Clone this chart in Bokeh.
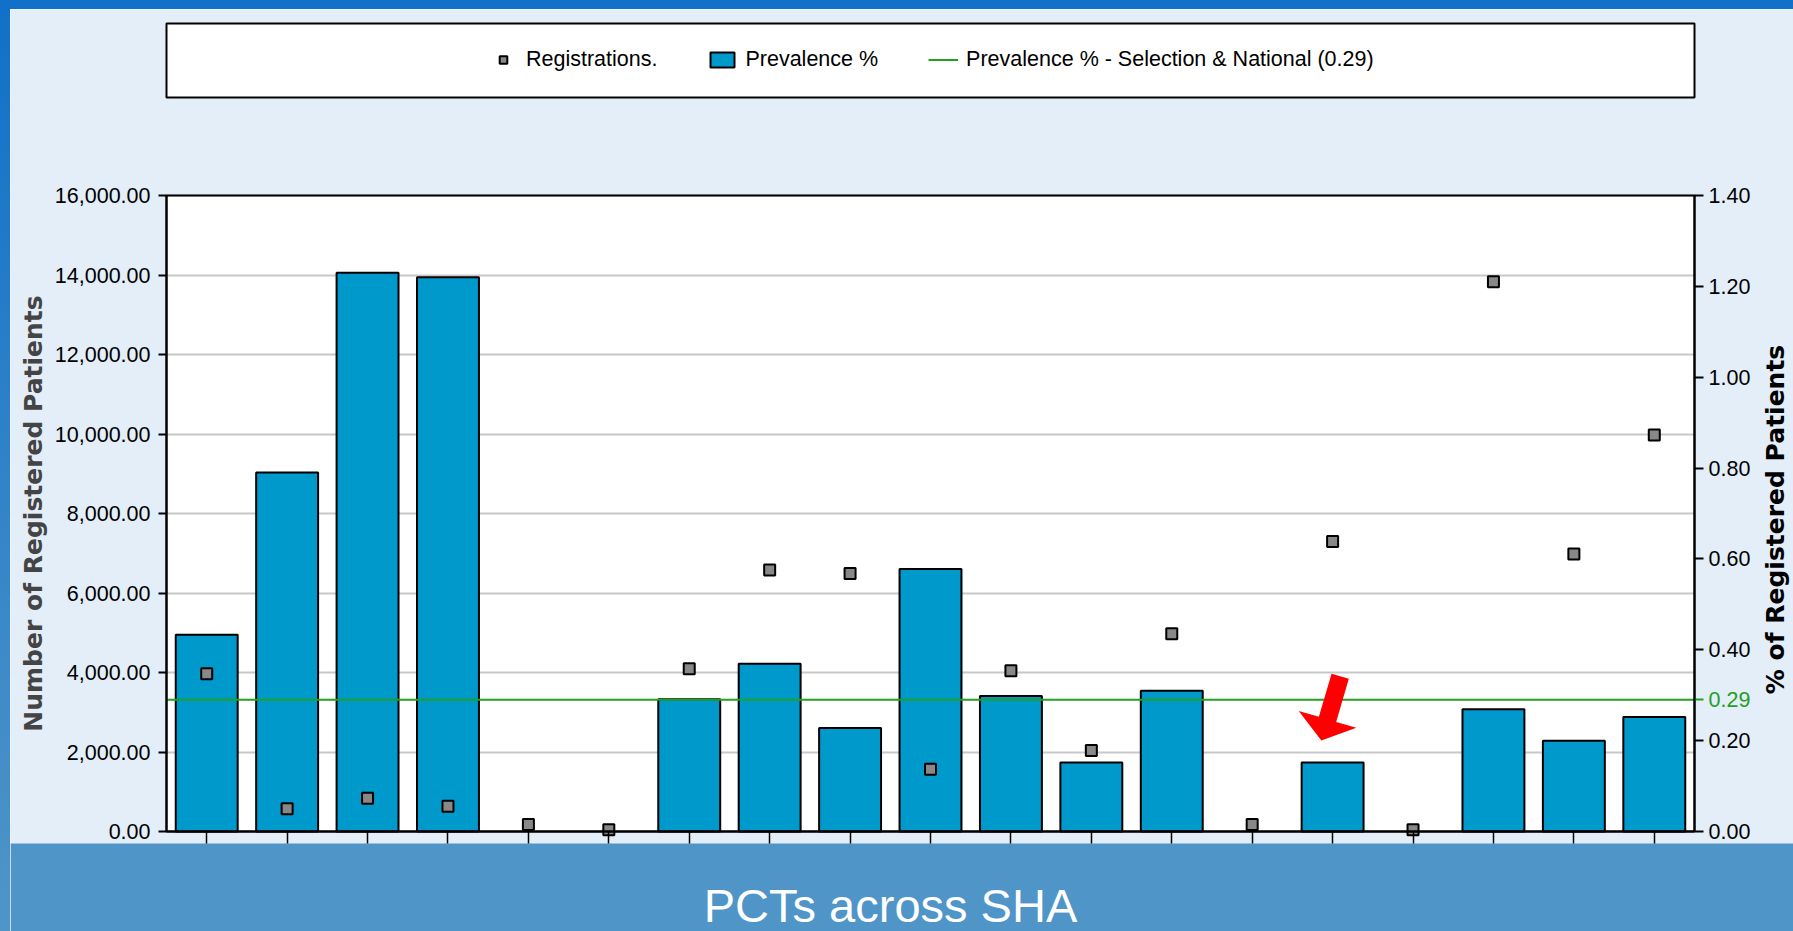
import math
from bokeh.plotting import figure
from bokeh.models import (Range1d, LinearAxis, FixedTicker, NumeralTickFormatter,
                          Legend, LegendItem, Label, PolyAnnotation, BoxAnnotation, Spacer)
from bokeh.layouts import column, row
from bokeh.embed import file_html
from bokeh.resources import INLINE

NAN = float("nan")

# ---------------- data ----------------
pct_index = list(range(19))  # PCTs across the SHA (unlabelled in the source)
prevalence = [0.433, 0.790, 1.230, 1.220, NAN, NAN, 0.291, 0.369, 0.228, 0.578,
              0.298, 0.152, 0.310, NAN, 0.152, NAN, 0.269, 0.200, 0.252]
registrations = [3967, 571, 838, 637, 176, 43, 4093, 6579, 6493, 1568,
                 4043, 2038, 4974, 176, 7298, 43, 13829, 6981, 9975]
national = 0.29
left_ticks = [0, 2000, 4000, 6000, 8000, 10000, 12000, 14000, 16000]
right_ticks = [0.0, 0.2, 0.4, 0.6, 0.8, 1.0, 1.2, 1.4]
highlight_index = 14  # PCT pointed at by the red arrow

# ---------------- styles / page geometry (page pixels) ----------------
LIGHT = "#E3EEF8"
BAND = "#4F95C8"
DARK = "#1171C8"
BAR = "#0099CC"
GREEN = "#22A022"
SANS = "Liberation Sans"
TICK_FS = "21.5px"
PAGE_W, PAGE_H = 1793, 931
STRIP_L, STRIP_T = 10, 9                 # dark strips on the left / top
PLOT_L, PLOT_R, PLOT_T, PLOT_B = 166, 1694, 195, 831
LEG_T, LEG_B = 23, 97                    # legend box
BAND_T = 843                             # caption band top
CAPTION_ANCHOR = 905                     # page y of the caption's anchor

n = len(pct_index)
xs = [i + 0.5 for i in pct_index]
y_max, pct_max = left_ticks[-1], right_ticks[-1]
PX_PER_X = (PLOT_R - PLOT_L) / n
PX_PER_Y = (PLOT_B - PLOT_T) / y_max


def x_at(px):
    return (px - PLOT_L) / PX_PER_X


def y_at(py):
    return (PLOT_B - py) / PX_PER_Y


W, H = PAGE_W - STRIP_L, PAGE_H - STRIP_T
p = figure(width=W, height=H, output_backend="svg", toolbar_location=None,
           x_range=Range1d(x_at(STRIP_L), x_at(PAGE_W)),
           y_range=Range1d(y_at(PAGE_H), y_at(STRIP_T)),
           min_border=0, background_fill_color=LIGHT, border_fill_color=LIGHT,
           outline_line_color=None)
p.title.visible = False
scale_pct = pct_max / y_max
p.extra_y_ranges = {"pct": Range1d(y_at(PAGE_H) * scale_pct, y_at(STRIP_T) * scale_pct)}

# plot area + grid
p.add_layout(BoxAnnotation(left=0, right=n, bottom=0, top=y_max, fill_color="white",
                           fill_alpha=1, line_color=None, level="image"))
p.xgrid.visible = False
p.ygrid.ticker = FixedTicker(ticks=left_ticks)
p.ygrid.grid_line_color = "#C8C8C8"
p.ygrid.grid_line_width = 2
p.add_layout(BoxAnnotation(right=0, fill_color=LIGHT, fill_alpha=1, line_color=None, level="underlay"))
p.add_layout(BoxAnnotation(left=n, fill_color=LIGHT, fill_alpha=1, line_color=None, level="underlay"))
p.add_layout(BoxAnnotation(top=y_at(BAND_T), fill_color=BAND, fill_alpha=1, line_color=None,
                           level="underlay"))

# left axis
ya = p.yaxis[0]
ya.fixed_location = 0
ya.bounds = (0, y_max)
ya.ticker = FixedTicker(ticks=left_ticks)
ya.formatter = NumeralTickFormatter(format="0,0.00")
ya.axis_label = "Number of Registered Patients"
ya.axis_label_text_font = "DejaVu Sans"
ya.axis_label_text_font_style = "bold"
ya.axis_label_text_font_size = "25px"
ya.axis_label_standoff = 4
ya.major_label_text_font = SANS
ya.major_label_text_font_size = TICK_FS
ya.major_label_text_color = "black"
ya.major_tick_out = 8
ya.major_tick_in = 0
ya.minor_tick_out = 0
ya.minor_tick_in = 0
ya.major_label_standoff = 8
ya.axis_line_width = 2
ya.major_tick_line_width = 2

# right axis
ra = LinearAxis(y_range_name="pct", fixed_location=n, bounds=(0, pct_max),
                ticker=FixedTicker(ticks=right_ticks), formatter=NumeralTickFormatter(format="0.00"))
ra.major_label_text_font = SANS
ra.major_label_text_font_size = TICK_FS
ra.major_label_text_color = "black"
ra.major_tick_out = 9
ra.major_tick_in = 0
ra.minor_tick_out = 0
ra.minor_tick_in = 0
ra.major_label_standoff = 5
ra.axis_line_width = 2
ra.major_tick_line_width = 2
p.add_layout(ra, "right")

ga = LinearAxis(y_range_name="pct", fixed_location=n, ticker=FixedTicker(ticks=[national]),
                formatter=NumeralTickFormatter(format="0.00"))
ga.axis_line_color = None
ga.major_tick_line_color = GREEN
ga.major_tick_line_width = 2
ga.major_tick_out = 9
ga.major_tick_in = 0
ga.minor_tick_out = 0
ga.minor_tick_in = 0
ga.major_label_standoff = 5
ga.major_label_text_font = SANS
ga.major_label_text_font_size = TICK_FS
ga.major_label_text_color = GREEN
p.add_layout(ga, "right")

p.add_layout(Label(x=x_at(1775), y=y_at((PLOT_T + PLOT_B) / 2 + 6), text="% of Registered Patients",
                   angle=math.pi / 2, text_font="DejaVu Sans", text_font_style="bold",
                   text_font_size="25px", text_align="center", text_baseline="middle",
                   text_color="black"))

# bottom axis: ticks only
xa = p.xaxis[0]
xa.fixed_location = 0
xa.bounds = (0, n)
xa.ticker = FixedTicker(ticks=xs)
xa.major_label_overrides = {x: "" for x in xs}
xa.major_label_text_font_size = "0px"
xa.major_label_standoff = 0
xa.major_tick_out = 12
xa.major_tick_in = 0
xa.minor_tick_out = 0
xa.minor_tick_in = 0
xa.axis_line_width = 2
xa.major_tick_line_width = 1.5

# glyphs
bars = p.vbar(x=xs, top=prevalence, width=0.77, y_range_name="pct",
              fill_color=BAR, line_color="black", line_width=2)
nat = p.line(x=[0, n], y=[national, national], y_range_name="pct",
             line_color=GREEN, line_width=2)
regs = p.scatter(x=xs, y=registrations, marker="square", size=11,
                 fill_color="#888888", line_color="black", line_width=2)

# plot outline
p.add_layout(BoxAnnotation(left=0, right=n, bottom=0, top=y_max, fill_alpha=0,
                           line_color="black", line_width=2, line_alpha=1))

# red arrow pointing at the highlighted PCT
tip_x, tip_y = xs[highlight_index] - 0.14, 2289
ux, uy = -0.281, -0.960          # pointing direction (pixels, y up)
nx, ny = -uy, ux
total_len, head_len, head_w, shaft_w = 67, 22, 60, 18
pts = [
    (0, 0),
    (-head_len * ux + head_w / 2 * nx, -head_len * uy + head_w / 2 * ny),
    (-head_len * ux + shaft_w / 2 * nx, -head_len * uy + shaft_w / 2 * ny),
    (-total_len * ux + shaft_w / 2 * nx, -total_len * uy + shaft_w / 2 * ny),
    (-total_len * ux - shaft_w / 2 * nx, -total_len * uy - shaft_w / 2 * ny),
    (-head_len * ux - shaft_w / 2 * nx, -head_len * uy - shaft_w / 2 * ny),
    (-head_len * ux - head_w / 2 * nx, -head_len * uy - head_w / 2 * ny),
]
p.add_layout(PolyAnnotation(xs=[tip_x + a / PX_PER_X for a, b in pts],
                            ys=[tip_y + b / PX_PER_Y for a, b in pts],
                            fill_color="#FF0000", fill_alpha=1.0, line_color=None))

# legend box and legend
p.add_layout(BoxAnnotation(left=0, right=n, bottom=y_at(LEG_B), top=y_at(LEG_T),
                           fill_color="white", fill_alpha=1, line_color="black",
                           line_width=2, line_alpha=1))
legend = Legend(items=[LegendItem(label="Registrations.", renderers=[regs]),
                       LegendItem(label="Prevalence %", renderers=[bars]),
                       LegendItem(label=f"Prevalence % - Selection & National ({national:.2f})",
                                  renderers=[nat])],
                orientation="horizontal", location=(488 - STRIP_L, PAGE_H - 72),
                padding=0, margin=0, spacing=50, glyph_width=30, glyph_height=19,
                label_standoff=8, border_line_color=None, background_fill_alpha=0,
                label_text_font=SANS, label_text_font_size=TICK_FS, label_text_color="black")
p.add_layout(legend)

# caption
p.add_layout(Label(x=x_at(890), y=y_at(CAPTION_ANCHOR), text="PCTs across SHA", text_align="center",
                   text_baseline="alphabetic", text_color="white",
                   text_font=SANS, text_font_size="47px"))

left_strip = Spacer(width=STRIP_L, height=H,
                    styles={"background": f"linear-gradient({DARK}, {BAND})"})
top_strip = Spacer(width=PAGE_W, height=STRIP_T, styles={"background-color": DARK})
layout = column(top_strip, row(left_strip, p, spacing=0), spacing=0)

open("out.html", "w").write(file_html(layout, INLINE))
